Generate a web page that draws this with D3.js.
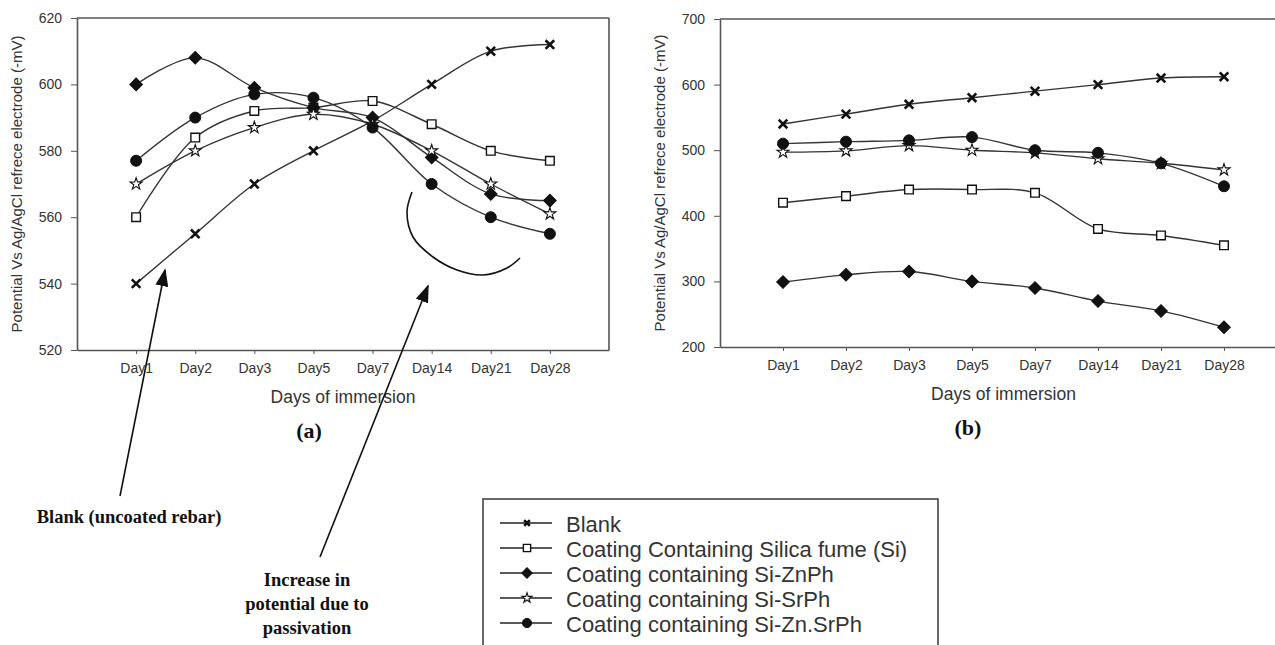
<!DOCTYPE html>
<html><head>
<meta charset="utf-8">
<script src="https://cdn.jsdelivr.net/npm/d3@7"></script>
<style>
  body { margin: 0; background: #fff; }
  svg text { font-family: "Liberation Sans", Arial, sans-serif; fill: #333; }
  .axis .domain, .axis line { stroke: #555; }
  .frame { stroke: #555; stroke-width: 1.6; fill: none; }
  .note { font-family: "Liberation Serif", "Times New Roman", serif; font-weight: bold; fill: #111; }
</style>
</head>
<body>
<svg id="chart" width="1275" height="645"></svg>
<script>
// data
const days = ["Day1", "Day2", "Day3", "Day5", "Day7", "Day14", "Day21", "Day28"];
const seriesNames = ["Blank", "Coating Containing Silica fume (Si)", "Coating containing Si-ZnPh",
                     "Coating containing Si-SrPh", "Coating containing Si-Zn.SrPh"];

// panel (a)
const blankA   = [540, 555, 570, 580, 589, 600, 610, 612];
const silicaA  = [560, 584, 592, 593, 595, 588, 580, 577];
const znA      = [600, 608, 599, 593, 590, 578, 567, 565];
const srA      = [570, 580, 587, 591, 588, 580, 570, 561];
const znsrA    = [577, 590, 597, 596, 587, 570, 560, 555];

// panel (b)
const blankB   = [540, 555, 570, 580, 590, 600, 610, 612];
const silicaB  = [420, 430, 440, 440, 435, 380, 370, 355];
const znB      = [299, 310, 315, 300, 290, 270, 255, 230];
const srB      = [497, 499, 507, 500, 496, 487, 480, 470];
const znsrB    = [510, 513, 515, 520, 500, 496, 480, 445];

const yTicksA = [520, 540, 560, 580, 600, 620];
const yTicksB = [200, 300, 400, 500, 600, 700];

const svg = d3.select("#chart");

// marker definitions per series
const markers = [
  {type: d3.symbolX,      size: 50, fill: "none", sw: 2.6, rot: 0},
  {type: d3.symbolSquare, size: 75, fill: "#fff", sw: 1.4, rot: 0},
  {type: d3.symbolSquare, size: 80, fill: "#111", sw: 1,   rot: 45},
  {type: d3.symbolStar,   size: 45, fill: "#fff", sw: 1.1, rot: 0},
  {type: d3.symbolCircle, size: 95, fill: "#111", sw: 1,   rot: 0}
];

function drawMarker(g, i, x, y, scale) {
  let m = markers[i];
  g.append("path")
    .attr("d", d3.symbol().type(m.type).size(m.size * (scale || 1))())
    .attr("transform", "translate(" + x + "," + y + ") rotate(" + m.rot + ")")
    .attr("fill", m.fill)
    .attr("stroke", "#111")
    .attr("stroke-width", m.sw);
}

function panel(opts) {
  const g = svg.append("g");
  const x = d3.scalePoint().domain(days).range([opts.left, opts.right]).padding(1);
  const y = d3.scaleLinear().domain(opts.domain).range([opts.bottom, opts.top]);

  // frame
  g.append("line").attr("class", "frame")
    .attr("x1", opts.left).attr("x2", opts.right).attr("y1", opts.top).attr("y2", opts.top);
  if (opts.closed) {
    g.append("line").attr("class", "frame")
      .attr("x1", opts.right).attr("x2", opts.right).attr("y1", opts.top).attr("y2", opts.bottom);
  }

  let yAxis = d3.axisLeft(y).tickValues(opts.ticks).tickSize(6).tickSizeOuter(0).tickPadding(9);
  g.append("g").attr("class", "axis")
    .attr("transform", "translate(" + opts.left + ",0)")
    .call(yAxis)
    .call(a => a.select(".domain").attr("stroke-width", 1.6))
    .selectAll("text").style("font-size", "14px");

  let xAxis = d3.axisBottom(x).tickSize(4).tickSizeOuter(0).tickPadding(9);
  g.append("g").attr("class", "axis")
    .attr("transform", "translate(0," + opts.bottom + ")")
    .call(xAxis)
    .call(a => a.select(".domain").attr("stroke-width", 1.6))
    .selectAll("text").style("font-size", "14px");

  // axis titles
  g.append("text")
    .attr("transform", "translate(" + (opts.left - 59) + "," + ((opts.top + opts.bottom) / 2) + ") rotate(-90)")
    .attr("text-anchor", "middle")
    .attr("dominant-baseline", "middle")
    .style("font-size", "15px")
    .text("Potential Vs Ag/AgCl refrece electrode (-mV)");

  g.append("text")
    .attr("x", (opts.left + opts.right) / 2).attr("y", opts.bottom + 53)
    .attr("text-anchor", "middle")
    .style("font-size", "17.5px")
    .text("Days of immersion");

  g.append("text").attr("class", "note")
    .attr("x", opts.labelX).attr("y", opts.bottom + 88)
    .attr("text-anchor", "middle")
    .style("font-size", "22px")
    .text(opts.label);

  const line = d3.line()
    .x((d, i) => x(days[i]))
    .y(d => y(d))
    .curve(d3.curveCatmullRom.alpha(0.5));

  opts.series.forEach((vals, si) => {
    g.append("path")
      .attr("d", line(vals))
      .attr("fill", "none")
      .attr("stroke", "#333")
      .attr("stroke-width", 1.4);
  });
  opts.series.forEach((vals, si) => {
    vals.forEach((v, i) => drawMarker(g, si, x(days[i]), y(v)));
  });
  return g;
}

panel({left: 77, right: 609, top: 18, bottom: 350, domain: [520, 620], ticks: yTicksA,
       closed: true, label: "(a)", labelX: 309,
       series: [blankA, silicaA, znA, srA, znsrA]});

panel({left: 720, right: 1287, top: 19, bottom: 347, domain: [200, 700], ticks: yTicksB,
       closed: false, label: "(b)", labelX: 968,
       series: [blankB, silicaB, znB, srB, znsrB]});

// legend
const legend = svg.append("g");
legend.append("rect")
  .attr("x", 483).attr("y", 499).attr("width", 455).attr("height", 170)
  .attr("fill", "none").attr("stroke", "#444").attr("stroke-width", 1.6);

seriesNames.forEach((name, i) => {
  let ly = 523 + i * 25;
  legend.append("line")
    .attr("x1", 500).attr("x2", 552).attr("y1", ly).attr("y2", ly)
    .attr("stroke", "#222").attr("stroke-width", 1.4);
  drawMarker(legend, i, 527, ly, i === 0 ? 0.45 : 0.7);
  legend.append("text")
    .attr("x", 566).attr("y", ly + 1)
    .attr("dominant-baseline", "central")
    .style("font-size", "22px")
    .text(name);
});

// hand drawn annotations
const notes = svg.append("g");
svg.append("defs").append("marker").attr("id", "head")
  .attr("viewBox", "0 0 10 10").attr("refX", 9).attr("refY", 5)
  .attr("markerWidth", 18).attr("markerHeight", 13).attr("markerUnits", "userSpaceOnUse")
  .attr("orient", "auto")
  .attr("preserveAspectRatio", "none")
  .append("path").attr("d", "M0,0 L10,5 L0,10 Z").attr("fill", "#111");

const arrows = [
  {from: [120, 496], to: [165, 270]},
  {from: [320, 557], to: [428, 286]}
];
arrows.forEach(a => {
  notes.append("line")
    .attr("x1", a.from[0]).attr("y1", a.from[1])
    .attr("x2", a.to[0]).attr("y2", a.to[1])
    .attr("stroke", "#111").attr("stroke-width", 1.6)
    .attr("marker-end", "url(#head)");
});

const squiggle = [[412, 192], [407, 212], [413, 237], [433, 257], [457, 270], [483, 275], [507, 268], [520, 258]];
notes.append("path")
  .attr("d", d3.line().curve(d3.curveCatmullRom.alpha(0.5))(squiggle))
  .attr("fill", "none").attr("stroke", "#111").attr("stroke-width", 1.6);

notes.append("text").attr("class", "note")
  .attr("x", 129).attr("y", 517).attr("text-anchor", "middle")
  .attr("dominant-baseline", "central")
  .style("font-size", "18.5px")
  .text("Blank (uncoated rebar)");

["Increase in", "potential due to", "passivation"].forEach((t, i) => {
  notes.append("text").attr("class", "note")
    .attr("x", 307).attr("y", 580 + i * 24).attr("text-anchor", "middle")
    .attr("dominant-baseline", "central")
    .style("font-size", "18.5px")
    .text(t);
});
</script>
</body>
</html>
